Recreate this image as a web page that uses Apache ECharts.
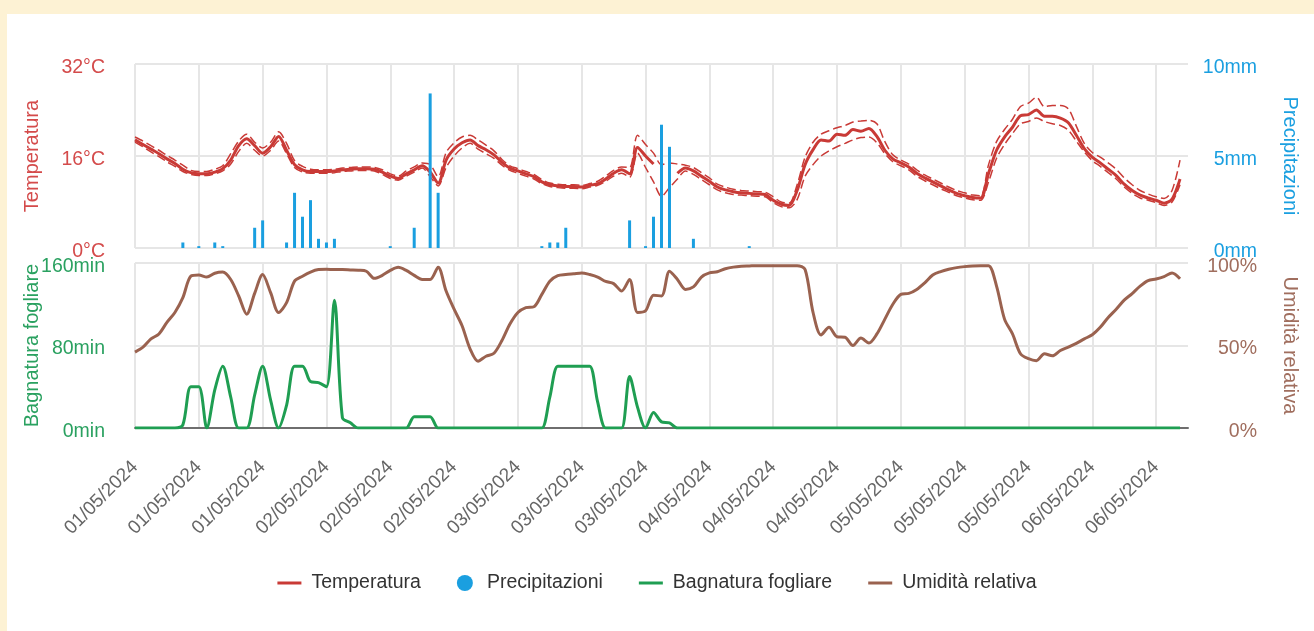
<!DOCTYPE html>
<html>
<head>
<meta charset="utf-8">
<script src="https://cdn.jsdelivr.net/npm/echarts@6/dist/echarts.min.js"></script>
<style>
  html, body { margin: 0; padding: 0; background: #fdf2d4; }
  #panel { position: absolute; left: 7px; top: 14px; width: 1307px; height: 617px; background: #fff; }
  #meteoChart { position: absolute; left: 0; top: 0; width: 1314px; height: 631px; }
</style>
</head>
<body>
<div id="panel"></div>
<div id="meteoChart"></div>
<script>
// one label every 8 hours
const tickLabels = [
  '01/05/2024', '01/05/2024', '01/05/2024',
  '02/05/2024', '02/05/2024', '02/05/2024',
  '03/05/2024', '03/05/2024', '03/05/2024',
  '04/05/2024', '04/05/2024', '04/05/2024',
  '05/05/2024', '05/05/2024', '05/05/2024',
  '06/05/2024', '06/05/2024',
];

// hourly values from 01/05 00:00
const temperatura = [
  18.8, 18.0, 17.2, 16.4, 15.5, 14.7, 13.7, 13.1, 12.9, 12.9, 13.2, 13.8, 15.3, 17.8, 19.0, 17.8,
  16.5, 17.6, 19.4, 17.0, 14.5, 13.6, 13.3, 13.3, 13.3, 13.4, 13.6, 13.7, 13.8, 13.8, 13.7, 13.2,
  12.5, 12.1, 12.9, 13.6, 14.3, 13.2, 11.3, 15.3, 17.2, 18.3, 18.8, 17.8, 17.1, 16.2, 14.9, 13.9,
  13.4, 12.9, 12.4, 11.5, 11.0, 10.8, 10.7, 10.7, 10.6, 10.9, 11.2, 12.0, 13.0, 13.6, 12.9, 17.5,
  16.0, 14.6, null, null, 13.0, 13.9, 13.4, 12.5, 11.6, 10.6, 10.1, 9.8, 9.6, 9.5, 9.4, 9.3,
  8.3, 7.6, 7.4, 10.0, 14.5, 17.1, 18.8, 18.6, 19.8, 19.6, 20.6, 20.3, 20.8, 19.4, 17.0, 15.5,
  14.8, 14.1, 13.0, 12.2, 11.5, 10.8, 10.1, 9.5, 9.1, 8.8, 8.7, 13.0, 17.0, 19.3, 21.0, 23.0,
  23.2, 24.0, 22.9, 22.9, 22.6, 21.8, 19.6, 17.3, 15.8, 14.8, 13.7, 12.6, 11.1, 10.0, 9.2, 8.7,
  8.3, 7.8, 8.5, 12.0,
];
const tempMax = [
  19.3, 18.6, 17.8, 17.0, 16.1, 15.3, 14.4, 13.5, 13.3, 13.3, 13.7, 14.3, 16.4, 18.6, 19.8, 18.4,
  17.4, 18.4, 20.2, 18.2, 15.2, 14.2, 13.7, 13.6, 13.6, 13.7, 13.9, 14.0, 14.1, 14.1, 14.0, 13.6,
  12.9, 12.5, 13.4, 14.1, 14.8, 14.5, 12.4, 16.6, 18.3, 19.3, 19.6, 18.8, 17.9, 16.9, 15.4, 14.3,
  13.8, 13.3, 12.8, 11.9, 11.3, 11.1, 11.0, 11.0, 10.9, 11.2, 11.6, 12.5, 13.5, 14.1, 14.0, 19.6,
  18.0, 16.5, 14.5, 14.8, 14.6, 14.4, 14.0, 13.1, 12.2, 11.1, 10.6, 10.2, 10.0, 9.9, 9.8, 9.7,
  8.9, 8.0, 7.8, 11.0, 15.8, 18.4, 19.8, 20.4, 20.9, 21.3, 21.9, 22.1, 22.2, 21.6, 18.5, 16.2,
  15.3, 14.6, 13.6, 12.7, 12.0, 11.3, 10.6, 10.0, 9.6, 9.2, 9.1, 14.5, 18.5, 20.6, 22.4, 24.6,
  25.2, 26.2, 24.6, 24.8, 24.8, 24.2, 21.2, 18.2, 16.6, 15.8, 14.8, 13.7, 12.2, 11.0, 10.0, 9.4,
  8.9, 8.6, 10.0, 15.3,
];
const tempMin = [
  18.4, 17.6, 16.7, 15.9, 15.0, 14.2, 13.3, 12.8, 12.6, 12.6, 12.9, 13.4, 14.6, 16.8, 18.2, 17.0,
  16.0, 17.0, 18.6, 16.4, 14.0, 13.2, 13.0, 13.0, 13.0, 13.1, 13.3, 13.4, 13.5, 13.5, 13.4, 12.8,
  12.1, 11.8, 12.5, 13.2, 13.9, 12.4, 10.8, 14.0, 16.0, 17.4, 18.2, 17.2, 16.4, 15.6, 14.4, 13.5,
  13.0, 12.5, 12.0, 11.2, 10.7, 10.5, 10.4, 10.4, 10.3, 10.6, 10.9, 11.6, 12.5, 13.0, 12.3, 16.5,
  14.0, 11.5, 9.0, 10.5, 12.0, 13.4, 12.8, 11.9, 11.0, 10.1, 9.6, 9.3, 9.2, 9.1, 9.0, 8.9,
  7.9, 7.2, 7.0, 8.4, 12.5, 14.5, 16.0, 16.9, 17.6, 18.2, 18.8, 19.2, 19.3, 18.3, 16.4, 15.0,
  14.3, 13.6, 12.5, 11.7, 11.0, 10.3, 9.7, 9.1, 8.7, 8.4, 8.3, 11.5, 15.6, 18.0, 19.9, 21.6,
  22.0, 22.6, 22.0, 21.6, 21.3, 20.5, 18.6, 16.7, 15.2, 14.2, 13.1, 12.0, 10.6, 9.5, 8.7, 8.3,
  7.9, 7.4, 8.0, 11.0,
];
const precipitazioni = [
  0, 0, 0, 0, 0, 0, 0.3, 0, 0.1, 0, 0.3, 0.1, 0, 0, 0, 1.1,
  1.5, 0, 0, 0.3, 3.0, 1.7, 2.6, 0.5, 0.3, 0.5, 0, 0, 0, 0, 0, 0,
  0.1, 0, 0, 1.1, 0, 8.4, 3.0, 0, 0, 0, 0, 0, 0, 0, 0, 0,
  0, 0, 0, 0.1, 0.3, 0.3, 1.1, 0, 0, 0, 0, 0, 0, 0, 1.5, 0,
  0.1, 1.7, 6.7, 5.5, 0, 0, 0.5, 0, 0, 0, 0, 0, 0, 0.1, 0, 0,
  0, 0, 0, 0, 0, 0, 0, 0, 0, 0, 0, 0, 0, 0, 0, 0,
  0, 0, 0, 0, 0, 0, 0, 0, 0, 0, 0, 0, 0, 0, 0, 0,
  0, 0, 0, 0, 0, 0, 0, 0, 0, 0, 0, 0, 0, 0, 0, 0,
  0, 0, 0, 0,
];
const bagnatura = [
  0, 0, 0, 0, 0, 0, 3, 40, 40, 0, 37, 60, 30, 0, 0, 32,
  60, 27, 0, 22, 60, 60, 45, 44, 40, 124, 10, 5, 0, 0, 0, 0,
  0, 0, 0, 11, 11, 11, 0, 0, 0, 0, 0, 0, 0, 0, 0, 0,
  0, 0, 0, 0, 30, 60, 60, 60, 60, 60, 25, 0, 0, 0, 50, 20,
  0, 15, 6, 5, 0, 0, 0, 0, 0, 0, 0, 0, 0, 0, 0, 0,
  0, 0, 0, 0, 0, 0, 0, 0, 0, 0, 0, 0, 0, 0, 0, 0,
  0, 0, 0, 0, 0, 0, 0, 0, 0, 0, 0, 0, 0, 0, 0, 0,
  0, 0, 0, 0, 0, 0, 0, 0, 0, 0, 0, 0, 0, 0, 0, 0,
  0, 0, 0, 0,
];
const umidita = [
  46, 49, 54, 57, 64, 70, 79, 92, 92.7, 91.5, 93.8, 94.5, 90, 80, 69, 81.6,
  93, 82, 70, 76, 89, 92, 94.5, 96, 96.2, 96, 96, 95.8, 95.6, 95, 90.7, 92.5,
  95.5, 97.4, 95.5, 92.5, 90, 90, 97.4, 83, 72, 62, 48, 40.5, 43.5, 45.3, 53, 63,
  70, 73, 73.5, 81, 89, 92.3, 93, 93.5, 94, 93, 91.5, 88.8, 87.5, 83, 90, 70,
  71, 80.5, 80, 95, 90, 84, 85.5, 91.5, 94, 94.7, 96.5, 97.5, 98, 98.2, 98.4, 98.4,
  98.4, 98.4, 98.4, 98.4, 96, 70, 56.4, 61, 55.3, 55, 50, 54.5, 51.5, 57, 66, 75,
  81, 81.6, 84, 88, 92.7, 94.8, 96.2, 97.2, 97.8, 98.2, 98.4, 98.4, 86, 66, 57, 45,
  42, 40.8, 45, 43.8, 47, 49, 51.3, 54, 56.5, 61, 67, 72, 77.5, 81.5, 86, 89.3,
  90.3, 91.8, 94, 90.5,
];

const hours = [];
for (let i = 0; i <= temperatura.length; i++) {
  hours.push(tickLabels[Math.floor(i / 8)] || '');
}

const red = '#c93a36';
const blue = '#1a9fe0';
const green = '#1f9e52';
const brown = '#9a624f';

const gridLine = { show: true, lineStyle: { color: '#e6e6e6', width: 2 } };

// y labels sit a few px below their grid line in the original
const yLabel = function (unit, color, extra) {
  return {
    formatter: (v) => `{t|${v}${unit}}`,
    rich: { t: { color: color, fontSize: 19.5, padding: [7, 0, 0, 0] } },
    ...extra,
  };
};

const meteoChart = echarts.init(document.getElementById('meteoChart'));

meteoChart.setOption({
  animation: false,
  textStyle: { fontFamily: 'Liberation Sans, Arial, sans-serif' },
  grid: [
    { left: 135, top: 64, width: 1053, height: 184 },
    { left: 135, top: 263, width: 1053, height: 165 },
  ],
  legend: {
    top: 568,
    left: 'center',
    itemWidth: 24,
    itemHeight: 16,
    itemGap: 36,
    textStyle: { fontSize: 19.5, color: '#333', padding: [0, 0, 0, 5] },
    data: [
      { name: 'Temperatura', icon: 'path://M0,0H24V3H0Z' },
      { name: 'Precipitazioni', icon: 'circle' },
      { name: 'Bagnatura fogliare', icon: 'path://M0,0H24V3H0Z' },
      { name: 'Umidità relativa', icon: 'path://M0,0H24V3H0Z' },
    ],
  },
  xAxis: [
    {
      type: 'category',
      gridIndex: 0,
      data: hours,
      boundaryGap: false,
      axisLine: { show: false },
      axisTick: { show: false },
      axisLabel: { show: false },
      splitLine: { ...gridLine, interval: 7 },
    },
    {
      type: 'category',
      gridIndex: 1,
      data: hours,
      boundaryGap: false,
      axisLine: { show: true, lineStyle: { color: '#6e6e6e', width: 2 } },
      axisTick: { show: false },
      axisLabel: { interval: 7, rotate: 45, margin: 36, color: '#666', fontSize: 19 },
      splitLine: { ...gridLine, interval: 7 },
    },
  ],
  yAxis: [
    {
      type: 'value',
      gridIndex: 0,
      min: 0,
      max: 32,
      interval: 16,
      name: 'Temperatura',
      nameLocation: 'middle',
      nameGap: 93,
      nameMoveOverlap: false,
      nameTextStyle: { color: '#d44b4b', fontSize: 20 },
      axisLabel: yLabel('°C', '#d44b4b', { margin: 30 }),
      splitLine: gridLine,
    },
    {
      type: 'value',
      gridIndex: 0,
      position: 'right',
      min: 0,
      max: 10,
      interval: 5,
      name: 'Precipitazioni',
      nameLocation: 'middle',
      nameRotate: -90,
      nameGap: 92,
      nameMoveOverlap: false,
      nameTextStyle: { color: blue, fontSize: 20 },
      axisLabel: yLabel('mm', blue, { align: 'right', margin: 69 }),
      splitLine: { show: false },
    },
    {
      type: 'value',
      gridIndex: 1,
      min: 0,
      max: 160,
      interval: 80,
      name: 'Bagnatura fogliare',
      nameLocation: 'middle',
      nameGap: 93,
      nameMoveOverlap: false,
      nameTextStyle: { color: '#2aa160', fontSize: 20 },
      axisLabel: yLabel('min', '#2aa160', { margin: 30 }),
      splitLine: gridLine,
    },
    {
      type: 'value',
      gridIndex: 1,
      position: 'right',
      min: 0,
      max: 100,
      interval: 50,
      name: 'Umidità relativa',
      nameLocation: 'middle',
      nameRotate: -90,
      nameGap: 92,
      nameMoveOverlap: false,
      nameTextStyle: { color: '#a06e5e', fontSize: 20 },
      axisLabel: yLabel('%', '#a06e5e', { align: 'right', margin: 69 }),
      splitLine: { show: false },
    },
  ],
  series: [
    {
      name: 'Temperatura',
      type: 'line',
      xAxisIndex: 0,
      yAxisIndex: 0,
      data: temperatura,
      color: red,
      smooth: 0.3,
      showSymbol: false,
      lineStyle: { width: 3 },
      z: 3,
    },
    {
      name: 'Temperatura max',
      type: 'line',
      xAxisIndex: 0,
      yAxisIndex: 0,
      data: tempMax,
      color: red,
      smooth: 0.3,
      showSymbol: false,
      lineStyle: { width: 1.5, type: [9, 4] },
      z: 2,
    },
    {
      name: 'Temperatura min',
      type: 'line',
      xAxisIndex: 0,
      yAxisIndex: 0,
      data: tempMin,
      color: red,
      smooth: 0.3,
      showSymbol: false,
      lineStyle: { width: 1.5, type: [9, 4] },
      z: 2,
    },
    {
      name: 'Precipitazioni',
      type: 'bar',
      xAxisIndex: 0,
      yAxisIndex: 1,
      data: precipitazioni,
      color: blue,
      barWidth: 3,
      z: 4,
    },
    {
      name: 'Bagnatura fogliare',
      type: 'line',
      xAxisIndex: 1,
      yAxisIndex: 2,
      data: bagnatura,
      color: green,
      smooth: 0.3,
      showSymbol: false,
      lineStyle: { width: 3 },
      z: 3,
    },
    {
      name: 'Umidità relativa',
      type: 'line',
      xAxisIndex: 1,
      yAxisIndex: 3,
      data: umidita,
      color: brown,
      smooth: 0.3,
      showSymbol: false,
      lineStyle: { width: 3 },
      z: 2,
    },
  ],
});
</script>
</body>
</html>
